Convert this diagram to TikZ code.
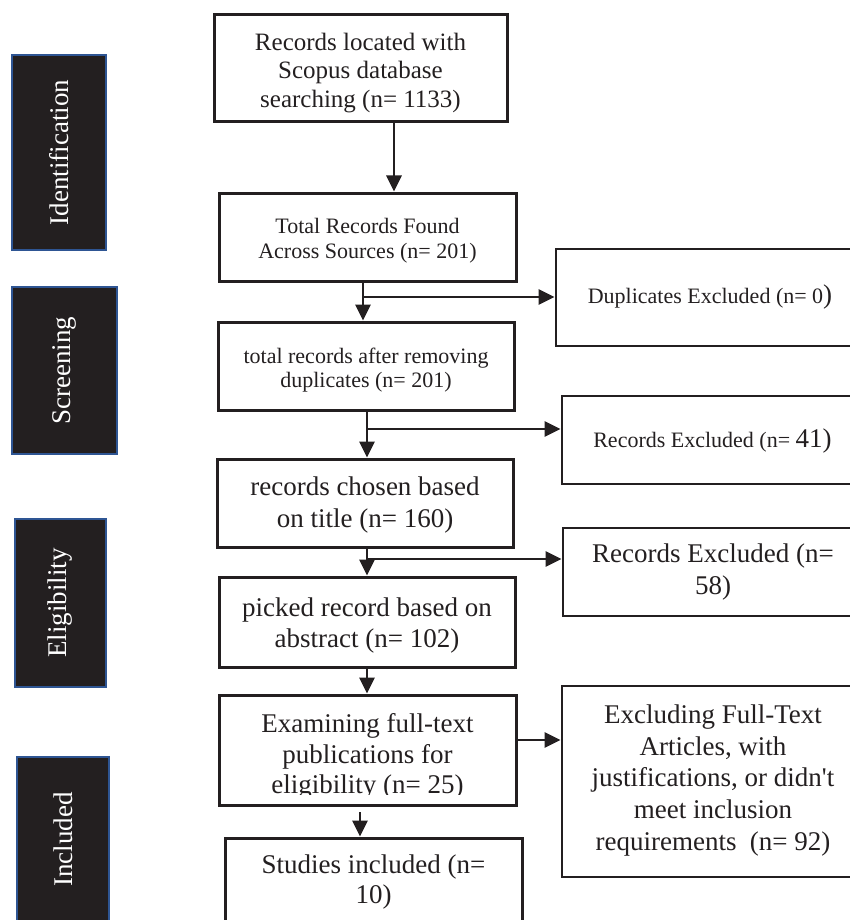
\documentclass[tikz,border=0pt]{standalone}
\usepackage{fontspec}
\setmainfont{Liberation Serif}
\usetikzlibrary{arrows.meta}
\definecolor{ink}{HTML}{231F20}
\definecolor{sideblue}{HTML}{2E5593}
\begin{document}
\begin{tikzpicture}[x=1pt,y=-1pt,
  box/.style={draw=ink, line width=3pt, rectangle, inner sep=0pt},
  rbox/.style={draw=ink, line width=2.8pt, rectangle, inner sep=0pt},
  side/.style={draw=sideblue, fill=ink, line width=2.6pt, rectangle, inner sep=0pt,
    text=white, rotate=90, font=\fontsize{27}{30}\selectfont},
  t22/.style={align=center, inner sep=0pt, text=ink, font=\fontsize{22}{24.5}\selectfont},
  t25/.style={align=center, inner sep=0pt, text=ink, font=\fontsize{25}{28.5}\selectfont},
  t27/.style={align=center, inner sep=0pt, text=ink, font=\fontsize{27}{31.5}\selectfont},
  arr/.style={draw=ink, line width=2.8pt, -{Triangle[length=16pt,width=15pt]}},
]
\useasboundingbox (0,0) rectangle (850,920);
\clip (0,0) rectangle (850,920);

% side stage labels
\node[side, minimum width=195pt, minimum height=94pt] (s1) at (59,152.5) {Identification};
\node[side, minimum width=167pt, minimum height=105pt] (s2) at (64.5,370.5) {Screening};
\node[side, minimum width=168pt, minimum height=91pt] (s3) at (60.5,603) {Eligibility};
\node[side, minimum width=165pt, minimum height=92pt] (s4) at (63,839.5) {Included};

% main column boxes
\node[box, minimum width=293pt, minimum height=107pt] (b1) at (360.5,68.5) {};
\node[box, minimum width=297pt, minimum height=88pt] (b2) at (367.5,237) {};
\node[box, minimum width=296pt, minimum height=88pt] (b3) at (366,366) {};
\node[box, minimum width=296pt, minimum height=88pt] (b4) at (365,503) {};
\node[box, minimum width=296pt, minimum height=90pt] (b5) at (367,622) {};
\node[box, minimum width=297pt, minimum height=110pt] (b6) at (367.5,750) {};
\node[box, minimum width=297pt, minimum height=102pt] (b7) at (373.5,889) {};

% right column boxes
\node[rbox, minimum width=310pt, minimum height=97pt] (r1) at (711,297.5) {};
\node[rbox, minimum width=304pt, minimum height=88pt] (r2) at (714,440) {};
\node[rbox, minimum width=303pt, minimum height=88pt] (r3) at (714.5,572) {};
\node[rbox, minimum width=304pt, minimum height=191pt] (r4) at (714,781.5) {};

% texts
\node[t25, anchor=north] (b1t) at (360.5,32.9) {Records located with\\Scopus database\\searching (n= 1133)};
\node[t22, anchor=north] (b2t) at (367.5,218.3) {Total Records Found\\Across Sources (n= 201)};
\node[t22, anchor=north, font=\fontsize{22}{24}\selectfont] (b3t) at (366,348.3) {total records after removing\\duplicates (n= 201)};
\node[t27, anchor=north, font=\fontsize{27}{32}\selectfont] (b4t) at (365,476.6) {records chosen based\\on title (n= 160)};
\node[t27, anchor=north, font=\fontsize{27}{31}\selectfont] (b5t) at (367,597.6) {picked record based on\\abstract (n= 102)};
\begin{scope}
  \clip (219,695) rectangle (516,794.5);
  \node[t27, anchor=north, font=\fontsize{27}{30.5}\selectfont] (b6t) at (367.5,713.6) {Examining full-text\\publications for\\eligibility (n= 25)};
\end{scope}
\node[t27, anchor=north, font=\fontsize{27}{30}\selectfont] (b7t) at (373.5,854.6) {Studies included (n=\\10)};

\node[t22, anchor=base] (r1t) at (710,303) {Duplicates Excluded (n= 0{\fontsize{27}{30}\selectfont)}};
\node[t22, anchor=base] (r2t) at (712.5,447) {Records Excluded (n= {\fontsize{27}{30}\selectfont 41)}};
\node[t27, anchor=north, font=\fontsize{27}{32}\selectfont] (r3t) at (713,543.6) {Records Excluded (n=\\58)};
\node[t27, anchor=north, font=\fontsize{27}{31.7}\selectfont] (r4t) at (713,704.6) {Excluding Full-Text\\Articles, with\\justifications, or didn{\addfontfeature{Ligatures=TeXOff}'}t\\meet inclusion\\requirements\ \ (n= 92)};

% connectors
\coordinate (x1) at (394,0);
\draw[arr] (b1.south -| x1) -- (b2.north -| x1);

\coordinate (x2) at (363,297);
\draw[arr] (b2.south -| x2) -- (b3.north -| x2);
\draw[arr] (x2) -- (x2 -| r1.west);

\coordinate (x3) at (367,429);
\draw[arr] (b3.south -| x3) -- (b4.north -| x3);
\draw[arr] (x3) -- (x3 -| r2.west);

\coordinate (x4) at (367,559);
\draw[arr] (b4.south -| x4) -- (b5.north -| x4);
\draw[arr] (x4) -- (x4 -| r3.west);

\coordinate (x5) at (367,0);
\draw[arr] (b5.south -| x5) -- (b6.north -| x5);

\coordinate (y6) at (0,740);
\draw[arr] (b6.east |- y6) -- (r4.west |- y6);

\coordinate (x7) at (360,812);
\draw[arr] (x7) -- (b7.north -| x7);
\end{tikzpicture}
\end{document}
